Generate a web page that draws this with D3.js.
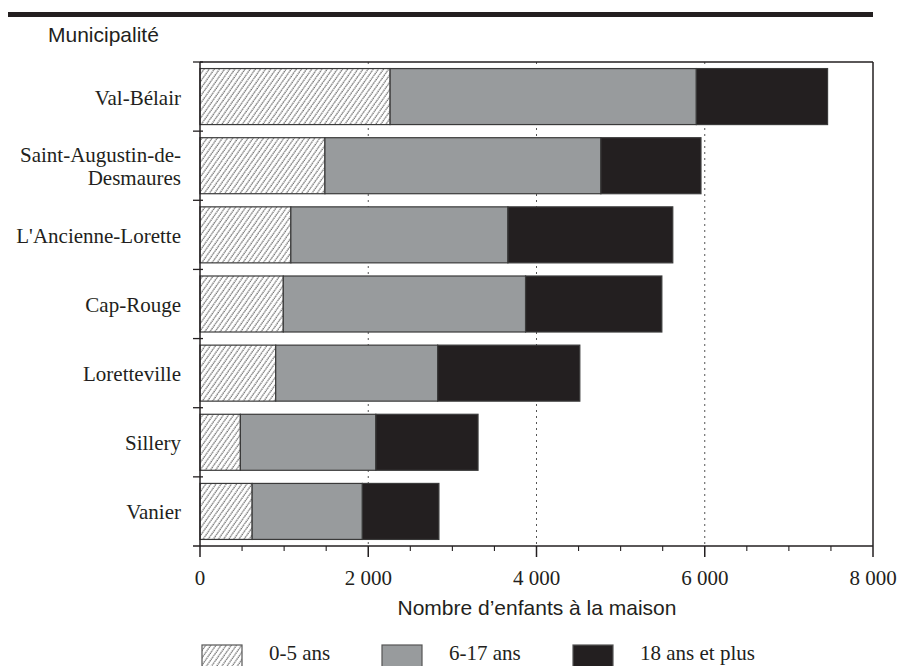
<!DOCTYPE html>
<html><head><meta charset="utf-8">
<script src="https://cdn.jsdelivr.net/npm/d3@7"></script>
<style>body{margin:0;background:#fff}svg{display:block}</style>
</head><body>
<svg id="c" width="899" height="666"></svg>
<script>
const categories = ["Val-Bélair","Saint-Augustin-de-\nDesmaures","L'Ancienne-Lorette","Cap-Rouge","Loretteville","Sillery","Vanier"];
const age0_5 = [2260,1485,1080,990,900,480,620];
const age6_17 = [3640,3280,2580,2880,1925,1610,1310];
const age18plus = [1560,1190,1960,1620,1690,1215,910];
const seriesNames = ["0-5 ans","6-17 ans","18 ans et plus"];
const xTicks = [0,2000,4000,6000,8000];

const svg = d3.select("#c");
const L = 200, R = 873, T = 62, B = 546;
const ink = "#231f20", grey = "#989b9d";
const serif = "'Liberation Serif','Times New Roman',serif";
const sans = "'Liberation Sans',Arial,sans-serif";
const FS = 21;

const defs = svg.append("defs");
const pat = defs.append("pattern").attr("id","hatch").attr("patternUnits","userSpaceOnUse")
  .attr("width",4.2).attr("height",4.2).attr("patternTransform","rotate(35)");
pat.append("rect").attr("width",4.2).attr("height",4.2).attr("fill","#fff");
pat.append("line").attr("x1",1).attr("y1",0).attr("x2",1).attr("y2",4.2)
  .attr("stroke","#4a4a4a").attr("stroke-width",1).attr("stroke-dasharray","1.4,0.7");

const x = d3.scaleLinear().domain([0,8000]).range([L,R]);
const y = d3.scaleBand().domain(categories).range([T,B]).paddingInner(0.19).paddingOuter(0.095);

// top thick rule
svg.append("rect").attr("x",8).attr("y",12).attr("width",R-8).attr("height",5).attr("fill",ink);

svg.append("text").attr("x",48).attr("y",42).attr("font-family",sans).attr("font-size",FS)
  .attr("fill",ink).text("Municipalité");

// gridlines
svg.append("g").selectAll("line").data(xTicks.filter(d=>d>0&&d<8000)).join("line")
  .attr("x1",d=>x(d)).attr("x2",d=>x(d)).attr("y1",T).attr("y2",B)
  .attr("stroke","#555").attr("stroke-width",1).attr("stroke-dasharray","2,4");

// frame top & right
svg.append("line").attr("x1",L).attr("x2",R).attr("y1",T).attr("y2",T).attr("stroke",ink).attr("stroke-width",1.3);
svg.append("line").attr("x1",R).attr("x2",R).attr("y1",T).attr("y2",B).attr("stroke",ink).attr("stroke-width",1.5);

// stacked bars
const rows = categories.map((c,i)=>({cat:c, v:[age0_5[i],age6_17[i],age18plus[i]]}));
const fills = ["url(#hatch)", grey, ink];
const g = svg.append("g");
rows.forEach(r=>{
  let acc = 0;
  r.v.forEach((v,k)=>{
    g.append("rect").attr("x",x(acc)).attr("y",y(r.cat)).attr("width",x(acc+v)-x(acc))
      .attr("height",y.bandwidth()).attr("fill",fills[k]).attr("stroke","#3a3a3a").attr("stroke-width",1.2);
    acc += v;
  });
});

// y axis
svg.append("line").attr("x1",L).attr("x2",L).attr("y1",T).attr("y2",B).attr("stroke",ink).attr("stroke-width",1.5);
const bounds = d3.range(categories.length).map(i=>T + i*(B-T)/categories.length);
svg.append("g").selectAll("line").data(bounds).join("line")
  .attr("x1",L-7).attr("x2",L+3).attr("y1",d=>d).attr("y2",d=>d).attr("stroke",ink).attr("stroke-width",1.3);

// category labels (each line its own text element)
const lab = svg.append("g");
categories.forEach(d=>{
  const lines = d.split("\n");
  const cy = y(d)+y.bandwidth()/2;
  lines.forEach((ln,i)=>{
    lab.append("text").attr("x",181).attr("y",cy + 8 + (i-(lines.length-1)/2)*23)
      .attr("text-anchor","end").attr("font-family",serif).attr("font-size",FS).attr("fill",ink).text(ln);
  });
});

// x axis
svg.append("line").attr("x1",L-7).attr("x2",R).attr("y1",B).attr("y2",B).attr("stroke",ink).attr("stroke-width",1.5);
const minor = d3.range(0,8001,500);
svg.append("g").selectAll("line").data(minor).join("line")
  .attr("x1",d=>x(d)).attr("x2",d=>x(d)).attr("y1",B).attr("y2",d=>d%2000===0?B+11:B+5)
  .attr("stroke",ink).attr("stroke-width",d=>d%2000===0?1.5:1.1);
const fmt = d=> d===0?"0":d3.format(",")(d).replace(/,/g," ");
svg.append("g").selectAll("text").data(xTicks).join("text")
  .attr("x",d=>x(d)).attr("y",585).attr("text-anchor","middle").attr("font-family",serif)
  .attr("font-size",FS).attr("fill",ink).text(fmt);

svg.append("text").attr("x",537).attr("y",615).attr("text-anchor","middle").attr("font-family",sans)
  .attr("font-size",FS).attr("fill",ink).text("Nombre d’enfants à la maison");

// legend
const legX = [202,382,573];
const lg = svg.append("g");
seriesNames.forEach((n,k)=>{
  lg.append("rect").attr("x",legX[k]).attr("y",645).attr("width",40).attr("height",24)
    .attr("fill",fills[k]).attr("stroke","#555").attr("stroke-width",1.2);
  lg.append("text").attr("x",legX[k]+67).attr("y",660).attr("font-family",serif).attr("font-size",FS)
    .attr("fill",ink).text(n);
});
</script>
</body></html>
